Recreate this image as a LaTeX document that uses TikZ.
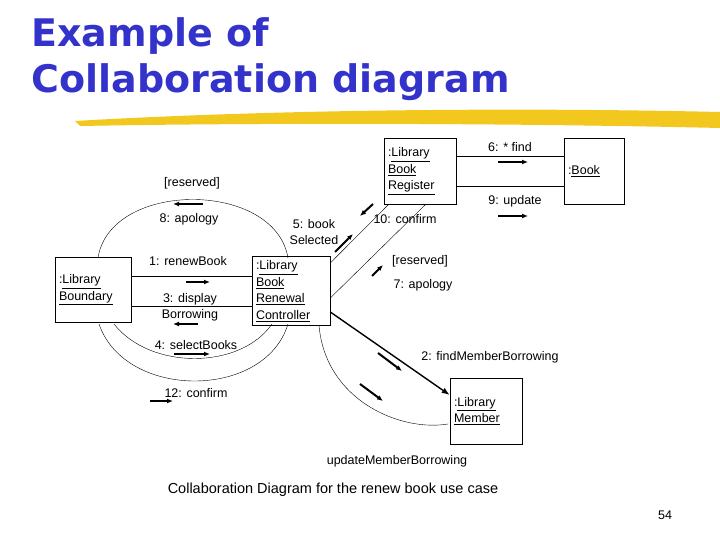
\documentclass[tikz,border=0pt]{standalone}
\usepackage{fontspec}
\setmainfont{Liberation Sans}
\newfontfamily\titlefont{DejaVu Sans}
\usetikzlibrary{arrows.meta}
\definecolor{titleblue}{HTML}{3333CC}
\definecolor{brush}{HTML}{F2C81E}
\tikzset{
  obj/.style={draw, semithick, align=left, inner sep=4pt, font=\fontsize{12.5}{16.5}\selectfont},
  msg/.style={-{Latex[length=6pt,width=5pt]}, line width=2pt},
  lbl/.style={font=\fontsize{12.5}{16}\selectfont, align=center},
  lnk/.style={thin}
}
\newcommand{\ul}[1]{\underline{#1}}
\begin{document}
\begin{tikzpicture}[x=1pt, y=-1pt]
\useasboundingbox (0,0) rectangle (720,540);
% Title
\node[anchor=west, text=titleblue, font=\titlefont\bfseries\fontsize{38}{44}\selectfont] at (28,36) {Example of};
\node[anchor=west, text=titleblue, font=\titlefont\bfseries\fontsize{38}{44}\selectfont] at (28,82) {Collaboration diagram};
\fill[brush] (75,121) .. controls (300,108) and (550,108) .. (720,112) -- (720,128) .. controls (550,124) and (300,122) .. (80,126) -- cycle;

% Objects
\node[obj, text width=68pt, minimum height=65pt] (bnd) at (93,290) {:\ul{Library}\\\ul{Boundary}};
\node[obj, text width=70pt, minimum height=67pt] (ctl) at (291,291) {:\ul{Library}\\\ul{Book}\\\ul{Renewal}\\\ul{Controller}};
\node[obj, text width=64pt, minimum height=66pt] (reg) at (420,171) {:\ul{Library}\\\ul{Book}\\\ul{Register}};
\node[obj, text width=52pt, minimum height=66pt] (book) at (594,171) {:\ul{Book}};
\node[obj, text width=64pt, minimum height=66pt] (mem) at (486,411) {:\ul{Library}\\\ul{Member}};

% Links
\draw[lnk] (bnd.east |- 0,276) -- (ctl.west |- 0,276);
\draw[lnk] (bnd.east |- 0,306) -- (ctl.west |- 0,306);
\draw[lnk] (reg.east |- 0,156) -- (book.west |- 0,156);
\draw[lnk] (reg.east |- 0,186) -- (book.west |- 0,186);
\draw[lnk] (ctl.east |- 0,263) -- (389,204);
\draw[lnk] (ctl.east |- 0,298) -- (426,204);
\draw[-{Latex[length=8pt,width=6pt]}, line width=1.4pt] (ctl.east |- 0,312) -- (mem.west |- 0,395);
\draw[lnk] (98,258) .. controls (110,180) and (275,180) .. (288,258);
\draw[lnk] (114,324) .. controls (150,370) and (240,370) .. (272,324);
\draw[lnk] (99,324) .. controls (125,400) and (265,400) .. (288,324);
\draw[lnk] (319,325) .. controls (325,400) and (400,432) .. (448,424);

% Messages
\node[lbl] at (192,183) {[reserved]};
\node[lbl] at (189,219) {8: apology};
\draw[msg] (203,204) -- (173,204);
\node[lbl] at (188,261) {1: renewBook};
\draw[msg] (186,282) -- (210,282);
\node[lbl] at (190,307) {3: display\\Borrowing};
\draw[msg] (198,324) -- (173,324);
\node[lbl] at (196,345) {4: selectBooks};
\draw[msg] (174,354) -- (210,354);
\node[lbl] at (196,393) {12: confirm};
\draw[msg] (150,401) -- (173,401);
\node[lbl] at (314,232) {5: book\\Selected};
\draw[msg] (335,252) -- (353,234);
\node[lbl] at (405,219) {10: confirm};
\draw[msg] (373,204) -- (360,216);
\node[lbl] at (420,261) {[reserved]};
\node[lbl] at (423,285) {7: apology};
\draw[msg] (372,276) -- (383,265);
\node[lbl] at (510,147) {6: * find};
\draw[msg] (498,162) -- (528,162);
\node[lbl] at (515,201) {9: update};
\draw[msg] (498,216) -- (528,216);
\node[lbl] at (490,357) {2: findMemberBorrowing};
\draw[msg] (378,353) -- (402,371);
\draw[msg] (360,384) -- (383,401);
\node[lbl] at (397,461) {updateMemberBorrowing};

% Caption
\node[font=\fontsize{14.5}{17}\selectfont] at (333,490) {Collaboration Diagram for the renew book use case};
\node[font=\fontsize{12.5}{14}\selectfont] at (665,515) {54};
\end{tikzpicture}
\end{document}
